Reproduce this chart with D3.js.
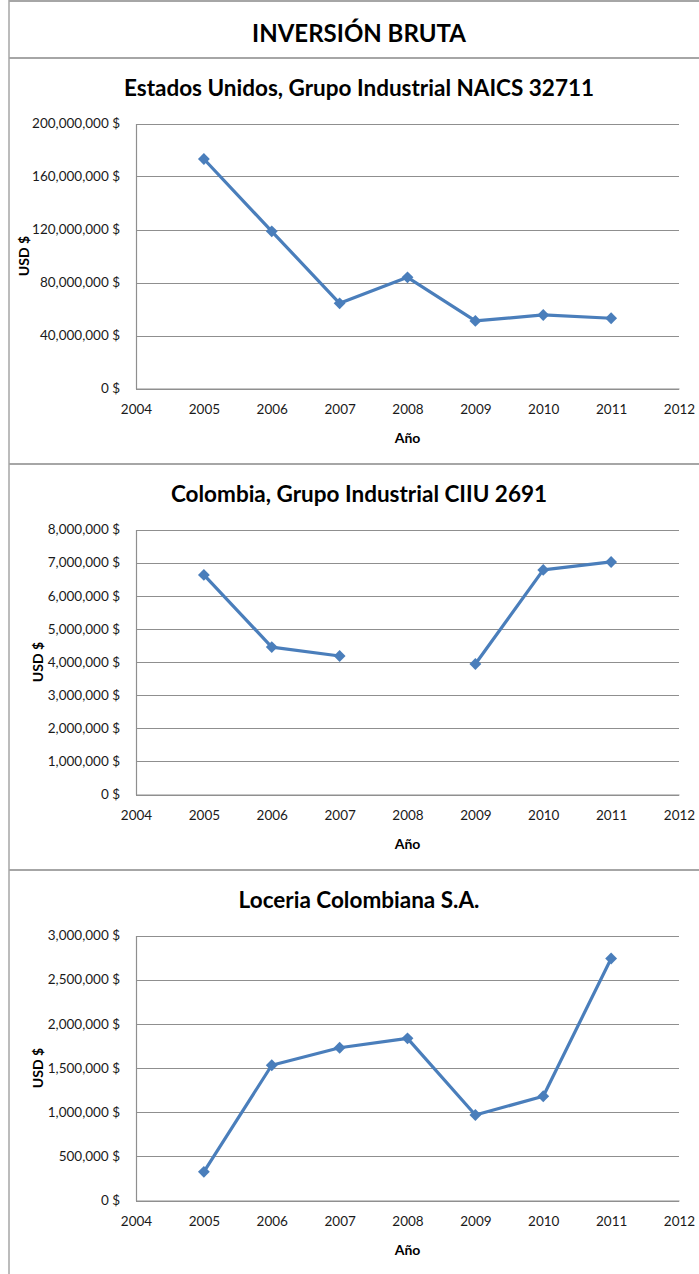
<!DOCTYPE html>
<html><head><meta charset="utf-8">
<script src="https://cdn.jsdelivr.net/npm/d3@7"></script>
<style>
html,body{margin:0;padding:0;background:#fff;}
svg{display:block;font-family:Lato, "Open Sans", sans-serif;}
</style></head>
<body>
<svg id="chart" width="699" height="1274"></svg>
<script>
const mainTitle = "INVERSIÓN BRUTA";
const years = [2005, 2006, 2007, 2008, 2009, 2010, 2011];
const xTicks = [2004, 2005, 2006, 2007, 2008, 2009, 2010, 2011, 2012];

const usTitle = "Estados Unidos, Grupo Industrial NAICS 32711";
const usValues = [173200000, 118600000, 64300000, 83900000, 51000000, 55500000, 53000000];
const usTicks = [0, 40000000, 80000000, 120000000, 160000000, 200000000];

const colTitle = "Colombia, Grupo Industrial CIIU 2691";
const colValues = [6630000, 4450000, 4180000, null, 3940000, 6780000, 7020000];
const colTicks = [0, 1000000, 2000000, 3000000, 4000000, 5000000, 6000000, 7000000, 8000000];

const locTitle = "Loceria Colombiana S.A.";
const locValues = [325000, 1531000, 1729000, 1836000, 968000, 1180000, 2740000];
const locTicks = [0, 500000, 1000000, 1500000, 2000000, 2500000, 3000000];

const yLabel = "USD $";
const xLabel = "Año";

const panels = [
  {title: usTitle, values: usValues, ticks: usTicks, ylx: 24},
  {title: colTitle, values: colValues, ticks: colTicks, ylx: 38},
  {title: locTitle, values: locValues, ticks: locTicks, ylx: 38}
];

const svg = d3.select("#chart");
const W = 699;
const lineColor = "#4a7ebb";
const gridColor = "#8f8f8f";
const borderColor = "#a6a6a6";

// outer frame
svg.append("line").attr("x1", 9).attr("x2", W).attr("y1", 1).attr("y2", 1)
  .attr("stroke", borderColor).attr("stroke-width", 2);
svg.append("line").attr("x1", 9).attr("x2", 9).attr("y1", 0).attr("y2", 1274)
  .attr("stroke", borderColor).attr("stroke-width", 1.5);

svg.append("text").attr("x", 359).attr("y", 33).attr("dy", "0.36em")
  .attr("text-anchor", "middle").attr("font-size", 24).attr("font-weight", "bold")
  .attr("fill", "#000").text(mainTitle);

const panelTop0 = 58, panelH = 406;
const plotLeft = 136, plotRight = 679;
const fmt = v => d3.format(",")(v) + " $";

panels.forEach((p, i) => {
  const top = panelTop0 + i * panelH;
  svg.append("line").attr("x1", 9).attr("x2", W).attr("y1", top).attr("y2", top)
    .attr("stroke", borderColor).attr("stroke-width", 2);

  const g = svg.append("g").attr("transform", `translate(0,${top})`);
  const pTop = 65.5, pBottom = 330.5;

  const x = d3.scaleLinear().domain([xTicks[0], xTicks[xTicks.length - 1]]).range([plotLeft, plotRight]);
  const y = d3.scaleLinear().domain([0, d3.max(p.ticks)]).range([pBottom, pTop]);

  g.append("text").attr("x", 359).attr("y", 30).attr("dy", "0.36em")
    .attr("text-anchor", "middle").attr("font-size", 22.5).attr("font-weight", "bold")
    .attr("fill", "#000").text(p.title);

  // gridlines
  g.append("g").selectAll("line").data(p.ticks).join("line")
    .attr("x1", plotLeft).attr("x2", plotRight)
    .attr("y1", d => Math.round(y(d)) + 0.5).attr("y2", d => Math.round(y(d)) + 0.5)
    .attr("stroke", gridColor).attr("stroke-width", 1.2);

  // y axis
  const ya = g.append("g").attr("transform", `translate(${plotLeft},0)`)
    .call(d3.axisLeft(y).tickValues(p.ticks).tickFormat(fmt).tickSize(0).tickPadding(16));
  ya.select(".domain").attr("stroke", gridColor).attr("stroke-width", 1.2);
  ya.selectAll("text").attr("font-size", 13.5).attr("fill", "#1a1a1a").attr("font-family", "Lato, sans-serif");

  // x axis
  const xa = g.append("g").attr("transform", `translate(0,${pBottom})`)
    .call(d3.axisBottom(x).tickValues(xTicks).tickFormat(d3.format("d")).tickSize(0).tickPadding(16));
  xa.select(".domain").attr("stroke", gridColor).attr("stroke-width", 1.2);
  xa.selectAll("text").attr("font-size", 13.5).attr("fill", "#1a1a1a").attr("font-family", "Lato, sans-serif");

  // axis titles
  g.append("text").attr("transform", `translate(${p.ylx},${(pTop + pBottom) / 2}) rotate(-90)`)
    .attr("text-anchor", "middle").attr("dy", "0.36em")
    .attr("font-size", 14).attr("font-weight", "bold").attr("fill", "#000").text(yLabel);
  g.append("text").attr("x", x(2008)).attr("y", 380).attr("dy", "0.36em")
    .attr("text-anchor", "middle").attr("font-size", 14).attr("font-weight", "bold")
    .attr("fill", "#000").text(xLabel);

  // line
  const data = years.map((yr, k) => ({yr, v: p.values[k]}));
  const line = d3.line().defined(d => d.v !== null).x(d => x(d.yr)).y(d => y(d.v));
  g.append("path").datum(data).attr("d", line)
    .attr("fill", "none").attr("stroke", lineColor).attr("stroke-width", 3.2)
    .attr("stroke-linejoin", "round");

  const sym = d3.symbol().type(d3.symbolSquare).size(70);
  g.append("g").selectAll("path").data(data.filter(d => d.v !== null)).join("path")
    .attr("d", sym)
    .attr("transform", d => `translate(${x(d.yr)},${y(d.v)}) rotate(45)`)
    .attr("fill", lineColor);
});
</script>
</body></html>
